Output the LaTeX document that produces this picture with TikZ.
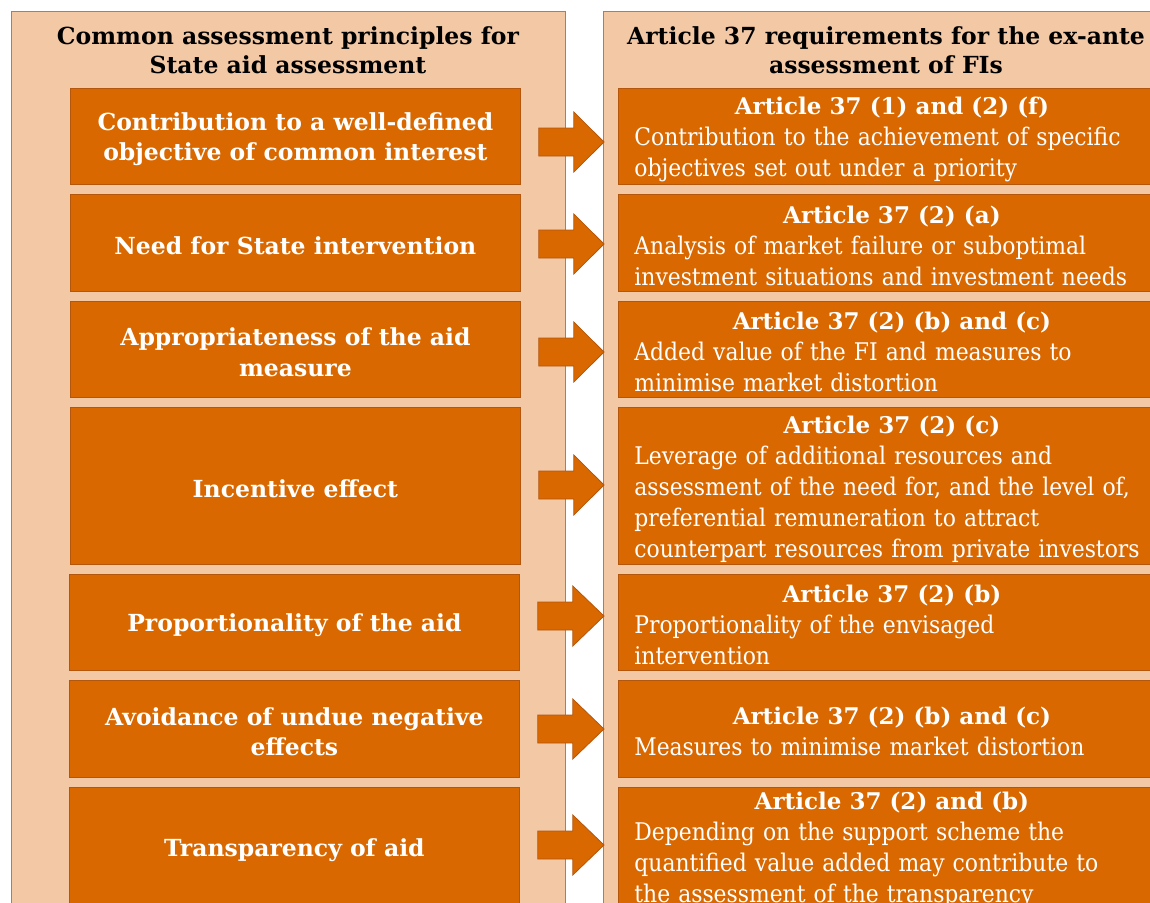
\documentclass[tikz,border=0pt]{standalone}
\usepackage{fontspec}
\setmainfont{DejaVu Serif}
\newfontfamily\boldface{DejaVu Serif Bold}
\newfontfamily\plainface{DejaVu Serif Condensed}
\usetikzlibrary{calc}
\definecolor{panelfill}{HTML}{F2C8A5}
\definecolor{paneldraw}{HTML}{C8773C}
\definecolor{boxfill}{HTML}{D96800}
\definecolor{boxdraw}{HTML}{B4560C}
\tikzset{
  panel/.style={draw=paneldraw, fill=panelfill, line width=0.8pt, anchor=north west, inner sep=0pt},
  headtext/.style={align=center, font=\boldface\fontsize{23.5}{29}\selectfont, text=black, inner sep=0pt},
  boxshape/.style={draw=boxdraw, fill=boxfill, line width=0.8pt, anchor=north west, inner sep=0pt},
  ltext/.style={align=center, text=white, font=\boldface\fontsize{23.5}{30.5}\selectfont, inner sep=0pt},
  rtext/.style={text width=515pt, align=left, text=white, font=\plainface\fontsize{24.3}{31}\selectfont, inner sep=0pt},
  blockarrow/.style={draw=boxdraw, fill=boxfill, line width=0.8pt, line join=miter},
}
\newcommand{\rhead}[1]{\makebox[\linewidth][c]{\boldface\fontsize{23}{31}\selectfont #1}}
% principle box: name, top-left corner, height, text
\newcommand{\principle}[4]{%
  \node[boxshape, minimum width=450pt, minimum height=#3] (#1) at (#2) {};
  \node[ltext] (#1t) at ($(#1.center)+(0,3)$) {#4};
}
% requirement box: name, top-left corner, height, heading, text
\newcommand{\requirement}[5]{%
  \node[boxshape, minimum width=547pt, minimum height=#3] (#1) at (#2) {};
  \node[rtext] (#1t) at ($(#1.center)+(0,3)$) {\rhead{#4}\\#5};
}
% block arrow from a principle to its requirement, centred at height #3
\newcommand{\linkarrow}[3]{%
  \fill[blockarrow] let \p1=(#1.east), \p2=(#2.west) in
    (\x1+18pt,#3-14) -- (\x1+53pt,#3-14) -- (\x1+53pt,#3-30) -- (\x2-14pt,#3)
    -- (\x1+53pt,#3+30) -- (\x1+53pt,#3+14) -- (\x1+18pt,#3+14) -- cycle;
}
\begin{document}
\begin{tikzpicture}[x=1pt,y=-1pt]
\useasboundingbox (0,0) rectangle (1150,902);
\clip (0,0) rectangle (1150,902);

% the two columns
\node[panel, minimum width=554pt, minimum height=960pt] (lp) at (11,11) {};
\node[panel, minimum width=580pt, minimum height=960pt] (rp) at (603,11) {};
\node[headtext] (lph) at (288,50) {Common assessment principles for\\State aid assessment};
\node[headtext] (rph) at (886,50) {Article 37 requirements for the ex-ante\\assessment of FIs};

% principles
\principle{l1}{70,88}{96pt}{Contribution to a well-defined\\objective of common interest}
\principle{l2}{70,194}{97pt}{Need for State intervention}
\principle{l3}{70,301}{96pt}{Appropriateness of the aid\\measure}
\principle{l4}{70,407}{157pt}{Incentive effect}
\principle{l5}{69,574}{96pt}{Proportionality of the aid}
\principle{l6}{69,680}{97pt}{Avoidance of undue negative\\effects}
\principle{l7}{69,787}{120pt}{Transparency of aid}

% requirements
\requirement{r1}{618,88}{96pt}{Article 37 (1) and (2) (f)}{Contribution to the achievement of specific\\objectives set out under a priority}
\requirement{r2}{618,194}{97pt}{Article 37 (2) (a)}{Analysis of market failure or suboptimal\\investment situations and investment needs}
\requirement{r3}{618,301}{96pt}{Article 37 (2) (b) and (c)}{Added value of the FI and measures to\\minimise market distortion}
\requirement{r4}{618,407}{157pt}{Article 37 (2) (c)}{Leverage of additional resources and\\assessment of the need for, and the level of,\\preferential remuneration to attract\\counterpart resources from private investors}
\requirement{r5}{618,574}{96pt}{Article 37 (2) (b)}{Proportionality of the envisaged\\intervention}
\requirement{r6}{618,680}{97pt}{Article 37 (2) (b) and (c)}{Measures to minimise market distortion}
\requirement{r7}{618,787}{120pt}{Article 37 (2) and (b)}{Depending on the support scheme the\\quantified value added may contribute to\\the assessment of the transparency}

% arrows
\linkarrow{l1}{r1}{142}
\linkarrow{l2}{r2}{244}
\linkarrow{l3}{r3}{352}
\linkarrow{l4}{r4}{485}
\linkarrow{l5}{r5}{616}
\linkarrow{l6}{r6}{729}
\linkarrow{l7}{r7}{845}
\end{tikzpicture}
\end{document}
